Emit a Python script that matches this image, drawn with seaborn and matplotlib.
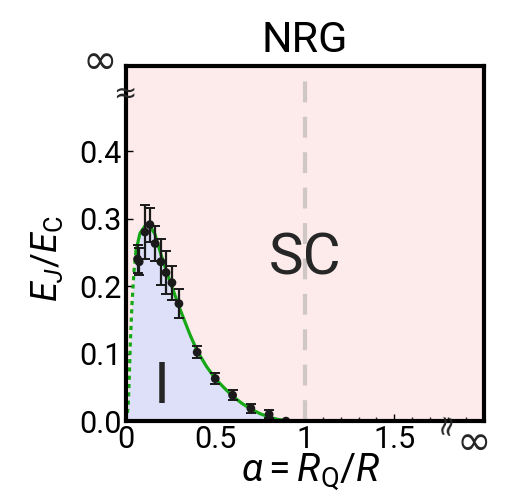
import matplotlib
matplotlib.use("Agg")
import matplotlib.pyplot as plt
import seaborn as sns
import pandas as pd

# NRG phase boundary: Josephson coupling vs. dimensionless conductance
alpha_pts = [0.065, 0.074, 0.106, 0.134, 0.163, 0.195, 0.224, 0.257, 0.296,
             0.398, 0.499, 0.596, 0.698, 0.800, 0.894]
ej_pts = [0.240, 0.236, 0.280, 0.291, 0.263, 0.236, 0.220, 0.205, 0.174,
          0.102, 0.063, 0.0385, 0.019, 0.010, 0.0]
ej_err = [0.021, 0.020, 0.040, 0.025, 0.026, 0.034, 0.032, 0.025, 0.021,
          0.009, 0.008, 0.007, 0.007, 0.006, 0.002]

# boundary curve: extrapolated (dashed) part and fitted (solid) part
bound_x_dash = [0.0, 0.012, 0.018, 0.025, 0.034, 0.045, 0.056]
bound_y_dash = [0.0, 0.020, 0.060, 0.120, 0.175, 0.222, 0.252]
bound_x = [0.056, 0.078, 0.106, 0.134, 0.162, 0.199, 0.246, 0.302, 0.358,
           0.398, 0.450, 0.499, 0.550, 0.596, 0.650, 0.698, 0.750, 0.800,
           0.850, 0.900, 0.950, 1.000]
bound_y = [0.252, 0.278, 0.289, 0.289, 0.277, 0.244, 0.207, 0.166, 0.128,
           0.104, 0.081, 0.063, 0.049, 0.037, 0.026, 0.018, 0.011, 0.006,
           0.0025, 0.0008, 0.0001, 0.0]

x_ticks = [0, 0.5, 1, 1.5]
x_ticklabels = ["0", "0.5", "1", "1.5"]
y_ticks = [0.0, 0.1, 0.2, 0.3, 0.4]
y_ticklabels = ["0.0", "0.1", "0.2", "0.3", "0.4"]

sns.set_theme(style="ticks")
FONT = "Roboto"
plt.rcParams["font.family"] = [FONT, "DejaVu Sans"]
plt.rcParams["font.weight"] = "normal"
plt.rcParams["mathtext.fontset"] = "custom"
plt.rcParams["mathtext.rm"] = f"{FONT}"
plt.rcParams["mathtext.it"] = f"{FONT}:italic"
plt.rcParams["mathtext.sf"] = f"{FONT}"

fig = plt.figure(figsize=(5.12, 4.92), dpi=100)
ax = fig.add_axes([0.246, 0.144, 0.699, 0.722])

pink = "#fdeaea"
blue = "#dde0f8"
green = "#17a817"

ax.set_facecolor(pink)
ax.set_xlim(0, 2.0)
ax.set_ylim(0, 0.526)

# insulating region under the boundary
fill_x = bound_x_dash + bound_x[1:]
fill_y = bound_y_dash + bound_y[1:]
ax.fill_between(fill_x, 0, fill_y, color=blue, lw=0, zorder=1)

# alpha = 1 line
ax.axvline(1.0, color="#cfc6c6", lw=3, ls=(0, (5, 3.5)), zorder=1.5)

curve_solid = pd.DataFrame({"a": bound_x, "e": bound_y})
curve_dash = pd.DataFrame({"a": bound_x_dash, "e": bound_y_dash})
sns.lineplot(data=curve_solid, x="a", y="e", color=green, lw=2.3,
             sort=False, ax=ax, zorder=3)
sns.lineplot(data=curve_dash, x="a", y="e", color=green, lw=2.3,
             sort=False, ax=ax, zorder=3, linestyle=(0, (1.3, 1.3)))

ax.errorbar(alpha_pts, ej_pts, yerr=ej_err, fmt="none", ecolor="#1a1a1a",
            elinewidth=1.6, capsize=3.5, capthick=1.4, zorder=4)
pts = pd.DataFrame({"a": alpha_pts, "e": ej_pts})
sns.scatterplot(data=pts, x="a", y="e", color="#1a1a1a", s=40,
                edgecolor="none", ax=ax, zorder=5)

ax.set_xticks(x_ticks)
ax.set_xticklabels(x_ticklabels)
ax.set_xticks([0.1 * i for i in range(20)], minor=True)
ax.set_yticks(y_ticks)
ax.set_yticklabels(y_ticklabels)
ax.tick_params(axis="both", which="major", direction="in", length=5,
               width=1, labelsize=22, pad=3, colors="black")
ax.tick_params(axis="x", which="minor", direction="in", length=3, width=1)
ax.tick_params(axis="y", which="minor", left=False)

for s in ax.spines.values():
    s.set_linewidth(3)
    s.set_color("black")
    s.set_zorder(6)

ax.set_xlabel(r"$\mathit{\alpha}{=}\mathit{R}_\mathrm{Q}/\mathit{R}$",
              fontsize=28, color="black")
ax.xaxis.set_label_coords(0.517, -0.085)
ax.set_ylabel(r"$\mathit{E}_\mathit{J}/\mathit{E}_\mathrm{C}$",
              fontsize=26, color="black")
ax.yaxis.set_label_coords(-0.170, 0.457)
ax.set_title("NRG", fontsize=31, pad=10, color="black")

ax.text(0.2, 0.05, "I", fontsize=42, ha="center", va="center", zorder=5)
ax.text(1.0, 0.24, "SC", fontsize=42, ha="center", va="center", zorder=5)

# axis break marks and the infinity labels
sym = dict(family=["DejaVu Sans"], fontweight="normal",
           ha="center", va="center", clip_on=False, transform=ax.transAxes)
ax.text(-0.003, 0.921, "≈", fontsize=20, zorder=7, **sym)
ax.text(0.894, -0.008, "≈", fontsize=20, rotation=80, zorder=7, **sym)
ax.text(-0.072, 1.01, "∞", fontsize=30, **sym)
ax.text(0.972, -0.062, "∞", fontsize=30, **sym)

fig.savefig("out.png", dpi=100)
